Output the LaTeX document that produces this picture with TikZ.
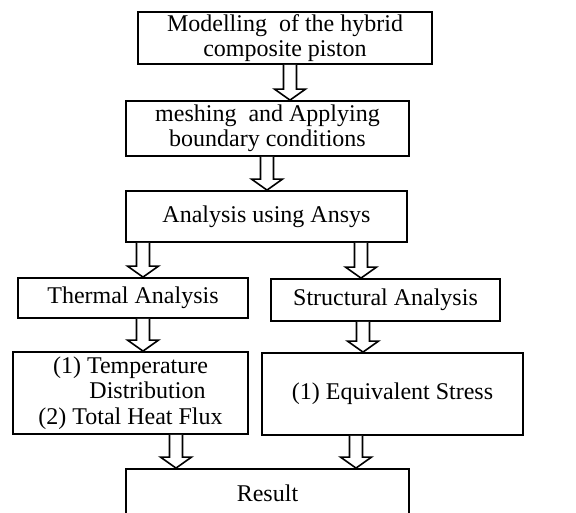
\documentclass[tikz,border=0pt]{standalone}
\usepackage{fontspec}
\setmainfont{Liberation Serif}
\usetikzlibrary{calc}
\tikzset{
  pbox/.style={
    draw=black, line width=1.8pt, inner sep=0pt, align=center,
    font=\fontsize{24}{25.5}\selectfont},
  pflow/.style={draw=black, fill=white, line width=1.6pt, line join=miter},
}
% hollow downward arrow: x position, from node, to node
\newcommand{\pdown}[3]{%
  \coordinate (t) at (#1,0 |- #2.south);
  \coordinate (h) at (#1,0 |- #3.north);
  \draw[pflow] ($(t)+(-6.5,0)$) -- ($(h)+(-6.5,-11)$) -- ($(h)+(-15.5,-11)$)
    -- (h) -- ($(h)+(15.5,-11)$) -- ($(h)+(6.5,-11)$) -- ($(t)+(6.5,0)$);
}

\begin{document}
\begin{tikzpicture}[x=1pt,y=-1pt]
\useasboundingbox (0,0) rectangle (576,513);
\clip (0,0) rectangle (576,513);

% main chain
\node[pbox,minimum width=294pt,minimum height=52pt] (model) at (285,38)
  {Modelling\ \ of the hybrid\\composite piston};
\node[pbox,minimum width=283pt,minimum height=55pt] (mesh) at (267.5,128.5)
  {meshing\ \ and Applying\\boundary conditions};
\node[pbox,minimum width=281pt,minimum height=51pt] (ansys) at (266.5,216.5)
  {Analysis using Ansys};

% two branches
\node[pbox,minimum width=230pt,minimum height=40pt] (thermal) at (133,298)
  {Thermal Analysis};
\node[pbox,minimum width=229pt,minimum height=42pt] (struct) at (385.5,300)
  {Structural Analysis};
\node[pbox,minimum width=235pt,minimum height=82pt] (tout) at (130.5,393)
  {(1) Temperature\\\phantom{(1) }Distribution\\(2) Total Heat Flux};
\node[pbox,minimum width=261pt,minimum height=82pt] (sout) at (392.5,394)
  {(1) Equivalent Stress};

% end
\node[pbox,minimum width=283pt,minimum height=48pt] (result) at (267.5,493)
  {Result};

% arrows
\pdown{290}{model}{mesh}
\pdown{267}{mesh}{ansys}
\pdown{143}{ansys}{thermal}
\pdown{361}{ansys}{struct}
\pdown{143}{thermal}{tout}
\pdown{363}{struct}{sout}
\pdown{176}{tout}{result}
\pdown{356}{sout}{result}

\end{tikzpicture}
\end{document}
